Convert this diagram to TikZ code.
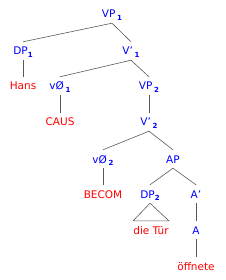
\documentclass[tikz,border=0pt]{standalone}
\usepackage{fontspec}
\setmainfont{DejaVu Sans}
\newcommand{\idx}[1]{\raisebox{-2.5pt}{\fontsize{7}{8}\selectfont\bfseries #1}}
\tikzset{
  cat/.style={text=blue, font=\fontsize{10.5}{12}\selectfont, inner xsep=0pt, inner ysep=5pt, text height=8pt, text depth=0pt},
  leaf/.style={cat, text=red},
  branch/.style={draw=black!65, line width=0.6pt}
}
\begin{document}
\begin{tikzpicture}[x=1pt, y=-1pt]
    \useasboundingbox (0,0) rectangle (225,280);
    % Kategorien
    \node[cat] (vp1) at (112,14) {VP\,\idx{1}};
    \node[cat] (dp1) at (23,51) {DP\idx{1}};
    \node[cat] (v1) at (131,51) {V'\,\idx{1}};
    \node[cat] (vn1) at (60,86) {vØ\,\idx{1}};
    \node[cat] (vp2) at (149,86) {VP\,\idx{2}};
    \node[cat] (v2) at (149,122) {V'\,\idx{2}};
    \node[cat] (vn2) at (103,159) {vØ\,\idx{2}};
    \node[cat] (ap) at (173,159) {AP};
    \node[cat] (dp2) at (150,194) {DP\idx{2}};
    \node[cat] (a1) at (196,194) {A'};
    \node[cat] (a) at (196,230) {A};

    % Blätter
    \node[leaf] (hans) at (23,86) {Hans};
    \node[leaf] (caus) at (60,122) {CAUS};
    \node[leaf] (becom) at (103,194) {BECOM};
    \node[leaf] (tuer) at (151,230) {die Tür};
    \node[leaf] (oeff) at (196,266) {öffnete};

    % Äste
    \draw[branch] (vp1.south) -- (dp1.north);
    \draw[branch] (vp1.south) -- (v1.north);
    \draw[branch] (dp1.south) -- (hans.north);
    \draw[branch] (v1.south) -- (vn1.north);
    \draw[branch] (v1.south) -- (vp2.north);
    \draw[branch] (vn1.south) -- (caus.north);
    \draw[branch] (vp2.south) -- (v2.north);
    \draw[branch] (v2.south) -- (vn2.north);
    \draw[branch] (v2.south) -- (ap.north);
    \draw[branch] (vn2.south) -- (becom.north);
    \draw[branch] (ap.south) -- (dp2.north);
    \draw[branch] (ap.south) -- (a1.north);
    \draw[branch] (dp2.south) -- (tuer.north west) -- (tuer.north east) -- cycle;
    \draw[branch] (a1.south) -- (a.north);
    \draw[branch] (a.south) -- (oeff.north);
\end{tikzpicture}
\end{document}
